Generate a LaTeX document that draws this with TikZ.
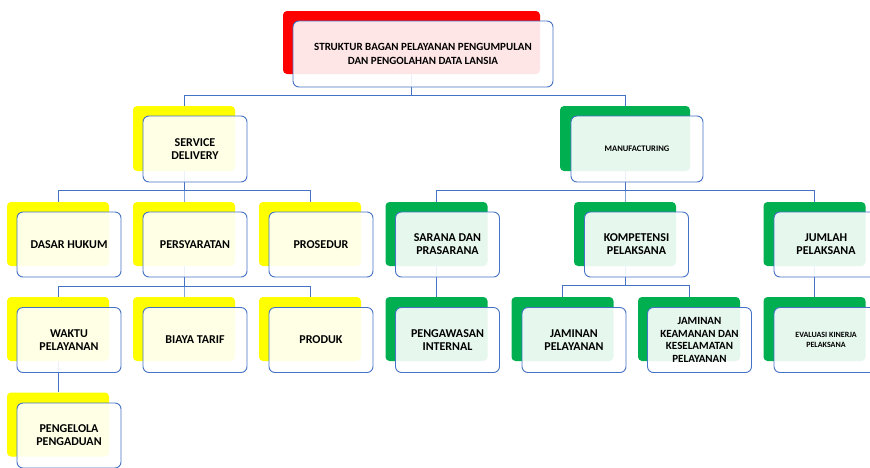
\documentclass[tikz,border=0pt]{standalone}
\usepackage{fontspec}
\setmainfont{Carlito}
\usetikzlibrary{backgrounds}
\definecolor{boxred}{HTML}{FF0000}
\definecolor{boxyellow}{HTML}{FFFF00}
\definecolor{boxgreen}{HTML}{00B050}
\definecolor{lineblue}{HTML}{4472C4}
\tikzset{
  backbox/.style={fill=#1, draw=none, rounded corners=4pt, minimum width=102pt,
    minimum height=64pt, inner sep=0pt},
  frontbox/.style={draw=lineblue, line width=0.9pt, fill=white, fill opacity=0.9,
    text opacity=1, rounded corners=6pt, minimum width=104pt, minimum height=65pt,
    inner sep=0pt, align=center, font=\bfseries\fontsize{12}{13}\selectfont},
  link/.style={draw=lineblue, line width=0.9pt}
}
\begin{document}
\begin{tikzpicture}[x=1pt,y=-1pt]
      \useasboundingbox (0,0) rectangle (870,467);
      \draw
        (411.5,42.5) node[backbox=boxred, minimum width=257pt, minimum height=63pt] (title){}
        (184,138.5) node[backbox=boxyellow, minimum height=65pt] (sd){}
        (625,138.5) node[backbox=boxgreen, minimum width=130pt, minimum height=65pt] (mf){}
        (58,234) node[backbox=boxyellow] (dh){}
        (184,234) node[backbox=boxyellow] (ps){}
        (310,234) node[backbox=boxyellow] (pr){}
        (58,329) node[backbox=boxyellow] (wp){}
        (184,329) node[backbox=boxyellow] (bt){}
        (310,329) node[backbox=boxyellow] (pd){}
        (58,424.5) node[backbox=boxyellow] (pe){}
        (436.5,234) node[backbox=boxgreen] (sp){}
        (625,234) node[backbox=boxgreen] (kp){}
        (814.5,234) node[backbox=boxgreen] (jl){}
        (436.5,329) node[backbox=boxgreen] (pg){}
        (562.5,329) node[backbox=boxgreen] (jy){}
        (689,329) node[backbox=boxgreen] (jk){}
        (814.5,329) node[backbox=boxgreen] (ev){};
      \draw
        (423,54) node[frontbox, minimum width=260pt, minimum height=66pt,
          font=\bfseries\fontsize{11}{14}\selectfont] (titlef){STRUKTUR BAGAN PELAYANAN PENGUMPULAN\\DAN PENGOLAHAN DATA LANSIA}
        (195,149) node[frontbox, minimum height=66pt] (sdf){SERVICE\\DELIVERY}
        (637,149) node[frontbox, minimum width=132pt, minimum height=66pt,
          font=\bfseries\fontsize{8.5}{10}\selectfont] (mff){MANUFACTURING}
        (69,244.5) node[frontbox] (dhf){DASAR HUKUM}
        (195,244.5) node[frontbox] (psf){PERSYARATAN}
        (321,244.5) node[frontbox] (prf){PROSEDUR}
        (69,340) node[frontbox] (wpf){WAKTU\\PELAYANAN}
        (195,340) node[frontbox] (btf){BIAYA TARIF}
        (321,340) node[frontbox] (pdf){PRODUK}
        (69,435.5) node[frontbox] (pef){PENGELOLA\\PENGADUAN}
        (447.5,244.5) node[frontbox] (spf){SARANA DAN\\PRASARANA}
        (636.5,244.5) node[frontbox] (kpf){KOMPETENSI\\PELAKSANA}
        (826,244.5) node[frontbox] (jlf){JUMLAH\\PELAKSANA}
        (447.5,340) node[frontbox] (pgf){PENGAWASAN\\INTERNAL}
        (574,340) node[frontbox] (jyf){JAMINAN\\PELAYANAN}
        (699.5,340) node[frontbox, font=\bfseries\fontsize{11}{12.5}\selectfont] (jkf){JAMINAN\\KEAMANAN DAN\\KESELAMATAN\\PELAYANAN}
        (826,340) node[frontbox, font=\bfseries\fontsize{8}{9.7}\selectfont] (evf){EVALUASI KINERJA\\PELAKSANA};
      \begin{scope}[on background layer]
        \draw[link] (sd.north) -- ++(0,-10) -| (title.south);
        \draw[link] (mf.north) -- ++(0,-10) -| (title.south);
        \draw[link] (dh.north) -- ++(0,-11) -| (sd.south);
        \draw[link] (ps.north) -- ++(0,-11) -| (sd.south);
        \draw[link] (pr.north) -- ++(0,-11) -| (sd.south);
        \draw[link] (wp.north) -- ++(0,-10) -| (ps.south);
        \draw[link] (bt.north) -- ++(0,-10) -| (ps.south);
        \draw[link] (pd.north) -- ++(0,-10) -| (ps.south);
        \draw[link] (wp.south) -- (pe.north);
        \draw[link] (sp.north) -- ++(0,-11) -| (mf.south);
        \draw[link] (kp.north) -- ++(0,-11) -| (mf.south);
        \draw[link] (jl.north) -- ++(0,-11) -| (mf.south);
        \draw[link] (sp.south) -- (pg.north);
        \draw[link] (jy.north) -- ++(0,-11) -| (kp.south);
        \draw[link] (jk.north) -- ++(0,-11) -| (kp.south);
        \draw[link] (jl.south) -- (ev.north);
      \end{scope}
    \end{tikzpicture}
\end{document}
